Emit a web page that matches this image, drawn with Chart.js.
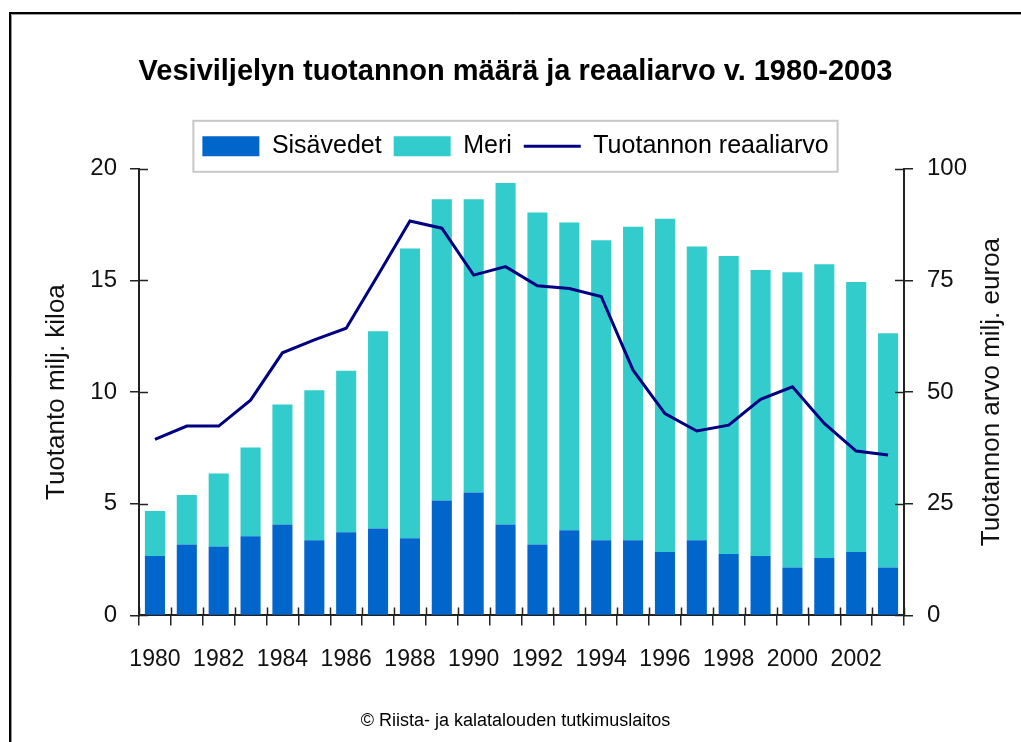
<!DOCTYPE html>
<html>
<head>
<meta charset="utf-8">
<script src="https://cdn.jsdelivr.net/npm/chart.js@4"></script>
<style>
  html, body { margin: 0; padding: 0; background: #fff; }
  #wrap { width: 1021px; height: 742px; position: relative; }
</style>
</head>
<body>
<div id="wrap"><canvas id="chart"></canvas></div>
<script>
// Vesiviljelyn tuotanto 1980-2003
const YEARS = ['1980', '1981', '1982', '1983', '1984', '1985', '1986', '1987', '1988', '1989', '1990', '1991',
  '1992', '1993', '1994', '1995', '1996', '1997', '1998', '1999', '2000', '2001', '2002', '2003'];

// milj. kiloa
const SISAVEDET = [2.66, 3.18, 3.09, 3.54, 4.07, 3.36, 3.72, 3.89, 3.45, 5.14, 5.50, 4.07,
  3.18, 3.81, 3.36, 3.36, 2.84, 3.36, 2.75, 2.66, 2.14, 2.57, 2.84, 2.14];
const MERI = [2.02, 2.21, 3.26, 3.98, 5.38, 6.72, 7.24, 8.83, 12.98, 13.50, 13.14, 15.29,
  14.86, 13.78, 13.44, 14.05, 14.92, 13.16, 13.34, 12.81, 13.23, 13.16, 12.09, 10.49];

// milj. euroa
const REAALIARVO = [39.4, 42.4, 42.4, 48.2, 58.8, 61.7, 64.3, 76.2, 88.3, 86.7, 76.2, 78.1,
  73.8, 73.2, 71.4, 54.9, 45.2, 41.3, 42.6, 48.4, 51.2, 43.0, 36.8, 35.9];

const LEFT_TICKS = [0, 5, 10, 15, 20];
const RIGHT_TICKS = [0, 25, 50, 75, 100];

const RIGHT_TITLE = 'Tuotannon arvo milj. euroa';

const AXIS_COLOR = '#222';
const SANS = '"Liberation Sans", Arial, sans-serif';

// tick marks that cross the axis line, right axis title, legend frame and the outer frame
const extras = {
  id: 'extras',
  afterDraw(chart) {
    const ctx = chart.ctx;
    const { x, y, y1 } = chart.scales;
    ctx.save();
    ctx.strokeStyle = AXIS_COLOR;
    ctx.lineWidth = 1.5;
    ctx.beginPath();
    y.ticks.forEach((t, i) => {
      const py = Math.round(y.getPixelForTick(i)) + 0.5;
      ctx.moveTo(x.left, py);
      ctx.lineTo(x.left + 9, py);
    });
    y1.ticks.forEach((t, i) => {
      const py = Math.round(y1.getPixelForTick(i)) + 0.5;
      ctx.moveTo(x.right - 9, py);
      ctx.lineTo(x.right, py);
    });
    for (let i = 0; i <= YEARS.length; i++) {
      const px = Math.round(x.getPixelForValue(i - 0.5)) + 0.5;
      ctx.moveTo(px, y.bottom);
      ctx.lineTo(px, y.bottom - 8);
    }
    ctx.stroke();

    // right axis title, reading bottom to top like the left one
    ctx.save();
    ctx.translate(y1.right - 29, (y1.top + y1.bottom) / 2);
    ctx.rotate(-Math.PI / 2);
    ctx.fillStyle = '#111';
    ctx.font = '26px ' + SANS;
    ctx.textAlign = 'center';
    ctx.textBaseline = 'middle';
    ctx.fillText(RIGHT_TITLE, 0, 0);
    ctx.restore();

    // legend frame
    const hb = chart.legend.legendHitBoxes;
    if (hb && hb.length) {
      const l = Math.min(...hb.map(b => b.left)) - 9;
      const r = Math.max(...hb.map(b => b.left + b.width)) + 9;
      const t = Math.min(...hb.map(b => b.top)) - 13;
      const btm = Math.max(...hb.map(b => b.top + b.height)) + 13;
      ctx.strokeStyle = '#c8c8c8';
      ctx.lineWidth = 2;
      ctx.strokeRect(l, t, r - l, btm - t);
    }

    // outer frame (top + left)
    ctx.strokeStyle = '#999';
    ctx.lineWidth = 1;
    ctx.beginPath();
    ctx.moveTo(11.5, 742); ctx.lineTo(11.5, 14.5); ctx.lineTo(1021, 14.5);
    ctx.stroke();
    ctx.strokeStyle = '#000';
    ctx.lineWidth = 2;
    ctx.beginPath();
    ctx.moveTo(10, 742); ctx.lineTo(10, 13); ctx.lineTo(1021, 13);
    ctx.stroke();
    ctx.restore();
  }
};

new Chart(document.getElementById('chart'), {
  data: {
    labels: YEARS,
    datasets: [
      {
        type: 'bar',
        label: 'Sisävedet',
        data: SISAVEDET,
        backgroundColor: '#0066cc',
        borderWidth: 0,
        pointStyle: 'rect',
        yAxisID: 'y',
        stack: 'tuotanto',
        order: 1,
        barPercentage: 0.63,
        categoryPercentage: 1,
      },
      {
        type: 'bar',
        label: 'Meri',
        data: MERI,
        backgroundColor: '#33cccc',
        borderWidth: 0,
        pointStyle: 'rect',
        yAxisID: 'y',
        stack: 'tuotanto',
        order: 1,
        barPercentage: 0.63,
        categoryPercentage: 1,
      },
      {
        type: 'line',
        label: 'Tuotannon reaaliarvo',
        data: REAALIARVO,
        borderColor: '#000080',
        backgroundColor: '#000080',
        borderWidth: 3,
        pointRadius: 0,
        pointStyle: 'line',
        tension: 0,
        yAxisID: 'y1',
        order: 0,
      },
    ],
  },
  options: {
    responsive: true,
    maintainAspectRatio: false,
    animation: false,
    layout: { padding: { left: 10, right: 0, top: 0, bottom: 0 } },
    plugins: {
      title: {
        display: true,
        text: 'Vesiviljelyn tuotannon määrä ja reaaliarvo v. 1980-2003',
        color: '#000',
        font: { family: SANS, size: 29, weight: 'bold' },
        padding: { top: 55, bottom: 32 },
      },
      subtitle: {
        display: true,
        position: 'bottom',
        text: '© Riista- ja kalatalouden tutkimuslaitos',
        color: '#000',
        font: { family: SANS, size: 18 },
        padding: { top: 25, bottom: 10 },
      },
      legend: {
        display: true,
        position: 'top',
        labels: {
          color: '#000',
          font: { family: SANS, size: 25 },
          usePointStyle: true,
          pointStyleWidth: 57,
          boxHeight: 20,
          padding: 12,
          sort: (a, b) => a.datasetIndex - b.datasetIndex,
        },
      },
      tooltip: { enabled: false },
    },
    scales: {
      x: {
        stacked: true,
        offset: true,
        afterFit: (s) => { s.height = 70; },
        grid: { display: true, drawOnChartArea: false, drawTicks: true, tickLength: 10, color: AXIS_COLOR, lineWidth: 1.5, offset: true },
        border: { display: true, color: AXIS_COLOR, width: 2 },
        ticks: {
          autoSkip: false,
          maxRotation: 0,
          color: '#111',
          padding: 20,
          font: { family: SANS, size: 23 },
          callback: (v, i) => (i % 2 === 0 ? YEARS[i] : ''),
        },
      },
      y: {
        position: 'left',
        stacked: true,
        min: 0,
        max: 20,
        afterFit: (s) => { s.width = 129; },
        afterBuildTicks: (s) => { s.ticks = LEFT_TICKS.map(v => ({ value: v })); },
        grid: { display: true, drawOnChartArea: false, tickLength: 9, color: AXIS_COLOR, lineWidth: 1.5 },
        border: { display: true, color: AXIS_COLOR, width: 2 },
        ticks: { color: '#111', padding: 13, font: { family: SANS, size: 24 } },
        title: {
          display: true,
          text: 'Tuotanto milj. kiloa',
          color: '#111',
          font: { family: SANS, size: 26 },
          padding: { top: 31, bottom: 0 },
        },
      },
      y1: {
        position: 'right',
        min: 0,
        max: 100,
        afterFit: (s) => { s.width = 117; },
        afterBuildTicks: (s) => { s.ticks = RIGHT_TICKS.map(v => ({ value: v })); },
        grid: { display: true, drawOnChartArea: false, tickLength: 9, color: AXIS_COLOR, lineWidth: 1.5 },
        border: { display: true, color: AXIS_COLOR, width: 2 },
        ticks: { color: '#111', padding: 14, font: { family: SANS, size: 24 } },
      },
    },
  },
  plugins: [extras],
});
</script>
</body>
</html>
